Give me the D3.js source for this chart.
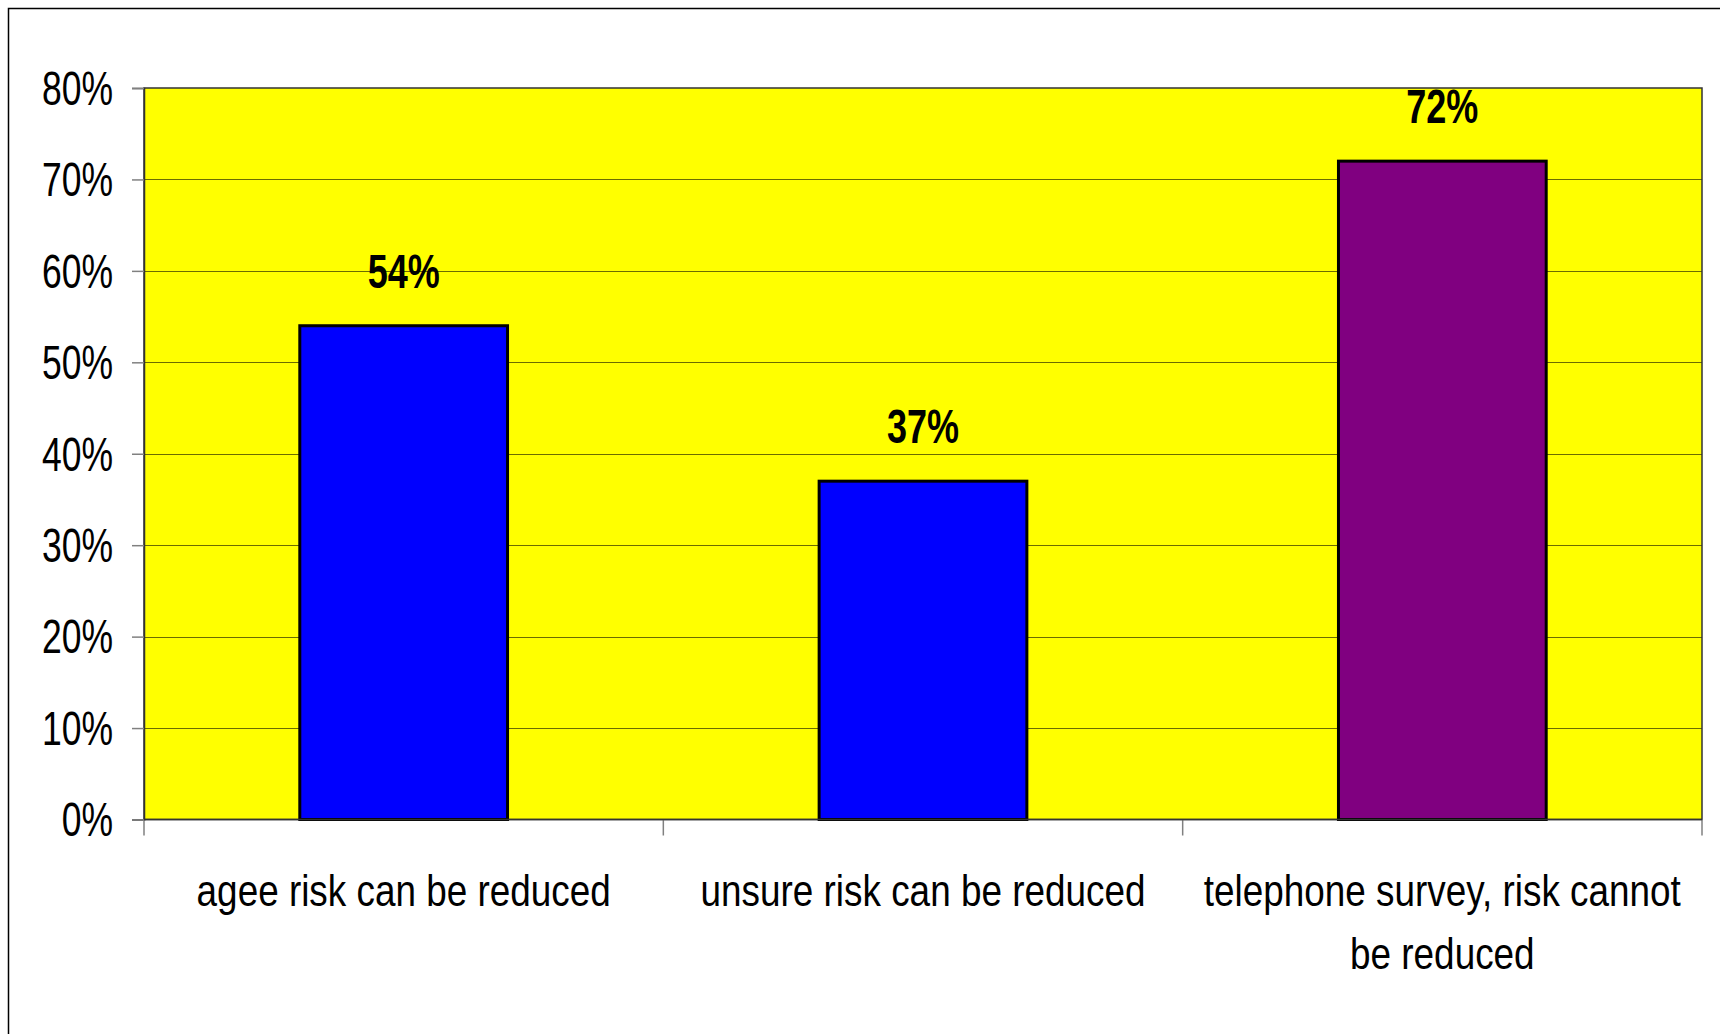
<!DOCTYPE html>
<html>
<head>
<meta charset="utf-8">
<script src="https://cdn.jsdelivr.net/npm/d3@7"></script>
<style>
  html, body { margin: 0; padding: 0; background: #ffffff; }
  svg { display: block; }
  text { font-family: "Liberation Sans", Arial, sans-serif; }
</style>
</head>
<body>
<svg id="chart" width="1720" height="1034"></svg>
<script>
// ---- data ----
const categories = ["agee risk can be reduced", "unsure risk can be reduced", "telephone survey, risk cannot be reduced"];
const categoryLines = [["agee risk can be reduced"], ["unsure risk can be reduced"], ["telephone survey, risk cannot", "be reduced"]];
const values = [0.54, 0.37, 0.72];
const barColors = ["#0000ff", "#0000ff", "#800080"];
const yTicks = [0, 0.1, 0.2, 0.3, 0.4, 0.5, 0.6, 0.7, 0.8];

// ---- layout ----
const W = 1720, H = 1034;
const plot = { left: 144, right: 1702, top: 88, bottom: 819.5 };
const NARROW = 0.82; // horizontal condensing to mimic a narrow face
const svg = d3.select("#chart");

// outer chart border (extends past right/bottom edges)
svg.append("rect")
  .attr("x", 8.5).attr("y", 8.5)
  .attr("width", W).attr("height", H)
  .attr("fill", "#ffffff").attr("stroke", "#000000").attr("stroke-width", 1.5);

const x = d3.scaleBand().domain(categories).range([plot.left, plot.right]).padding(0);
const y = d3.scaleLinear().domain([0, 0.8]).range([plot.bottom, plot.top]);

// plot area background
svg.append("rect")
  .attr("x", plot.left).attr("y", plot.top)
  .attr("width", plot.right - plot.left).attr("height", plot.bottom - plot.top)
  .attr("fill", "#ffff00");

// gridlines
svg.append("g").selectAll("line")
  .data(yTicks.filter(t => t > 0 && t < 0.8))
  .join("line")
  .attr("x1", plot.left).attr("x2", plot.right)
  .attr("y1", d => Math.round(y(d)) + 0.5).attr("y2", d => Math.round(y(d)) + 0.5)
  .attr("stroke", "#6b6b00").attr("stroke-width", 1);

// plot border
svg.append("rect")
  .attr("x", plot.left).attr("y", plot.top)
  .attr("width", plot.right - plot.left).attr("height", plot.bottom - plot.top)
  .attr("fill", "none").attr("stroke", "#333333").attr("stroke-width", 1.5);

// bars
const barW = x.bandwidth() * 0.4;
svg.append("g").selectAll("rect")
  .data(values)
  .join("rect")
  .attr("x", (d, i) => x(categories[i]) + x.bandwidth() / 2 - barW / 2)
  .attr("y", d => y(d))
  .attr("width", barW)
  .attr("height", d => y(0) - y(d))
  .attr("fill", (d, i) => barColors[i])
  .attr("stroke", "#000000").attr("stroke-width", 3);

// y axis
const Y_NARROW = 0.74;
const yAxis = d3.axisLeft(y).tickValues(yTicks).tickFormat(d3.format(".0%")).tickSize(12).tickPadding(18);
const gy = svg.append("g").attr("transform", `translate(${plot.left},0)`).call(yAxis);
gy.select(".domain").attr("stroke", "#333333").attr("stroke-width", 1.5);
gy.selectAll(".tick line").attr("stroke", "#808080").attr("stroke-width", 1.5);
gy.selectAll(".tick text")
  .attr("font-family", "Liberation Sans, Arial, sans-serif")
  .attr("font-size", 48).attr("fill", "#000000").attr("dy", "0.34em")
  .attr("x", -31 / Y_NARROW)
  .attr("transform", `scale(${Y_NARROW},1)`);

// x axis (ticks at band boundaries)
const xBounds = categories.map(c => x(c)).concat([plot.right]);
svg.append("g").selectAll("line")
  .data(xBounds)
  .join("line")
  .attr("x1", d => d).attr("x2", d => d)
  .attr("y1", plot.bottom).attr("y2", plot.bottom + 16)
  .attr("stroke", "#808080").attr("stroke-width", 1.5);
svg.append("line")
  .attr("x1", plot.left).attr("x2", plot.right)
  .attr("y1", plot.bottom).attr("y2", plot.bottom)
  .attr("stroke", "#333333").attr("stroke-width", 1.5);

// category labels
const catG = svg.append("g");
categories.forEach((c, i) => {
  const cx = x(c) + x.bandwidth() / 2;
  const t = catG.append("text")
    .attr("text-anchor", "middle")
    .attr("font-size", 45)
    .attr("fill", "#000000")
    .attr("transform", `translate(${cx},0) scale(${NARROW},1)`);
  categoryLines[i].forEach((ln, j) => {
    t.append("tspan")
      .attr("x", 0)
      .attr("y", 906 + j * 63)
      .text(ln);
  });
});

// value labels
svg.append("g").selectAll("text")
  .data(values)
  .join("text")
  .attr("text-anchor", "middle")
  .attr("font-size", 48).attr("font-weight", "bold")
  .attr("fill", "#000000")
  .attr("transform", (d, i) => `translate(${x(categories[i]) + x.bandwidth() / 2},${y(d) - 38}) scale(0.75,1)`)
  .text(d => d3.format(".0%")(d));
</script>
</body>
</html>
